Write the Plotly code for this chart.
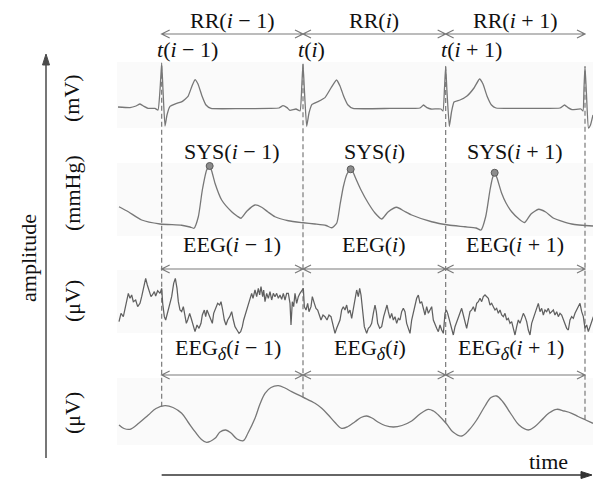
import numpy as np
import plotly.graph_objects as go

W, H = 593, 480

# ---------------------------------------------------------------- data
# R-peak times (ms)
beat_t = [268, 1116, 1972, 2808]

# ECG (mV)
ecg_t = [6, 78, 114, 138, 162, 186, 228, 246, 260, 268, 276, 288, 300, 318, 354, 390, 426, 450, 468,
         486, 510, 534, 564, 738, 918, 972, 996, 1020, 1038, 1074, 1098, 1109, 1116, 1125, 1138,
         1152, 1170, 1206, 1248, 1284, 1317, 1338, 1362, 1386, 1416, 1638, 1818, 1839, 1860, 1884,
         1944, 1956, 1965, 1972, 1980, 1994, 2007, 2022, 2058, 2100, 2142, 2175, 2196, 2220, 2247,
         2274, 2478, 2658, 2685, 2706, 2730, 2784, 2796, 2802, 2808, 2817, 2829, 2841, 2856]
ecg_mv = [0.025, 0.01, 0.05, 0.10, 0.04, -0.01, -0.01, -0.05, 0.575, 1.125, 0.45, -0.45, -0.175,
          0.04, 0.11, 0.16, 0.29, 0.55, 0.71, 0.60, 0.30, 0.075, -0.01, -0.015, -0.01, 0.0, 0.06,
          0.01, -0.06, -0.025, -0.075, 0.575, 1.10, 0.40, -0.46, -0.125, 0.09, 0.16, 0.26, 0.50,
          0.70, 0.55, 0.275, 0.075, -0.01, -0.01, 0.0, 0.075, 0.01, -0.025, -0.025, -0.075, 0.50,
          1.04, 0.40, -0.46, -0.10, 0.15, 0.20, 0.30, 0.50, 0.725, 0.60, 0.30, 0.075, 0.0, -0.01,
          0.0, 0.075, 0.01, -0.04, -0.025, -0.075, 0.50, 1.04, 0.325, -0.50, -0.425, -0.175]

# arterial blood pressure (mmHg)
abp_t = [12, 68, 148, 258, 388, 438, 462, 488, 512, 538, 556, 570, 588, 628, 688, 720, 744, 780,
         828, 868, 906, 948, 1028, 1118, 1188, 1254, 1288, 1318, 1338, 1358, 1380, 1402, 1416,
         1428, 1464, 1508, 1548, 1588, 1626, 1678, 1722, 1768, 1888, 1988, 2088, 2154, 2184, 2212,
         2238, 2253, 2266, 2280, 2308, 2334, 2368, 2412, 2446, 2484, 2530, 2572, 2620, 2728, 2856]
abp_mmhg = [94.6, 90.6, 84.0, 80.8, 79.8, 78.4, 77.4, 86.6, 108.0, 124.0, 127.2, 122.4, 113.4,
            100.0, 90.6, 87.2, 85.4, 91.2, 96.0, 94.2, 90.4, 86.6, 83.4, 81.8, 80.8, 79.6, 77.8,
            81.4, 96.0, 110.6, 120.8, 124.6, 122.4, 118.6, 108.0, 97.4, 89.6, 84.8, 90.4, 94.2,
            91.2, 88.0, 82.6, 80.0, 78.6, 77.6, 76.0, 86.6, 108.0, 117.6, 121.8, 117.6, 105.4,
            97.6, 90.6, 84.8, 82.0, 88.8, 92.6, 90.4, 85.4, 80.8, 79.2]

# raw EEG (uV)
eeg_t = [12, 24, 38, 52, 68, 78, 88, 98, 112, 124, 138, 148, 164, 172, 182, 192, 204, 212, 224,
         232, 244, 258, 268, 274, 284, 292, 304, 314, 328, 340, 350, 360, 368, 378, 388, 398, 408,
         416, 424, 436, 448, 460, 468, 480, 492, 504, 512, 524, 532, 540, 552, 560, 572, 580, 592,
         604, 616, 624, 634, 644, 654, 664, 676, 688, 698, 708, 720, 732, 742, 752, 760, 772, 784,
         796, 808, 816, 828, 838, 848, 856, 864, 874, 880, 888, 898, 908, 918, 928, 938, 948, 958,
         968, 978, 988, 998, 1008, 1018, 1028, 1038, 1044, 1052, 1060, 1068, 1078, 1088, 1098,
         1108, 1118, 1124, 1134, 1144, 1152, 1164, 1172, 1184, 1194, 1204, 1212, 1224, 1236, 1248,
         1260, 1272, 1284, 1298, 1308, 1318, 1328, 1338, 1348, 1358, 1368, 1378, 1388, 1398, 1408,
         1418, 1428, 1438, 1448,
         1456, 1464, 1472, 1484, 1498, 1508, 1518, 1528, 1538, 1548, 1556, 1564, 1576, 1588, 1600,
         1612, 1620, 1628, 1638, 1648, 1658, 1668, 1678, 1688, 1698, 1708, 1718, 1728, 1738, 1748,
         1758, 1768, 1778, 1788, 1798, 1808, 1818, 1828, 1838, 1848, 1858, 1868, 1878, 1888, 1898,
         1908, 1918, 1928, 1938, 1948, 1958, 1968, 1976, 1984, 1992, 2000, 2008, 2018, 2028, 2038,
         2048, 2058, 2068, 2078, 2088, 2098, 2108, 2118, 2128, 2138, 2148, 2158, 2168, 2178, 2188,
         2198, 2208, 2218, 2228, 2238, 2248, 2258, 2268, 2278, 2288, 2298, 2308, 2318, 2328, 2338,
         2348, 2358, 2368, 2378, 2388, 2398, 2408, 2418, 2428, 2438, 2448, 2458, 2468, 2478, 2488,
         2498, 2508, 2518, 2528, 2538, 2548, 2558, 2568, 2578, 2588, 2598, 2608, 2618, 2628, 2638,
         2648, 2658, 2668, 2678, 2688, 2698, 2708, 2718, 2728, 2738, 2748, 2758, 2768, 2778, 2788,
         2798, 2808, 2818, 2828, 2838, 2848, 2858]
eeg_uv = [-17.5, -5, -10, 7.5, 25, 17.5, 22.5, 12.5, 15, 5, 10, 20, 40, 47.5, 37.5, 30, 20, 22.5,
          27.5, 21, 29, 25, 32.5, 10, -10, -15, -2.5, 10, 20, 40, 47.5, 32.5, 12.5, 0, -2.5, 5,
          -10, -20, -15, -5, -15, -27.5, -32.5, -22.5, -27.5, -20, -7.5, 0, -10, 0, -7.5, -15,
          -20, -5, 2.5, 10, 7.5, 12.5, 0, -15, -22.5, -15, -10, -2.5, -15, -25, -30, -35, -32.5,
          -25, -15, -5, 5, 15, 25, 17.5, 30, 20, 32.5, 22.5, 35, 20, 30, 12.5, 25, 17.5, 27.5, 15,
          25, 20, 25, 17.5, 22.5, 16, 25, 15, 25, 25, 10, -22.5, 12.5, 5, 25, 10, 20, 25, 30,
          32.5, 5, 0, 10, -2.5, 5, 20, 10, 2.5, 0, -5, -15, -7.5, -10, -15, -7.5, -10, -25, -35,
          -27.5, -20, -15, 0, 5, 0, 7.5, -5, 0, -12.5, 2.5, 12.5, 30, 20,
          32.5, 22.5, 5, -25, -35, -27.5, -25, -20, -5, 7.5, -2.5, -20, -27.5, -25, -10, 2.5, 7.5,
          -2.5, -12.5, -5, -15, -10, -20, -12.5, -15, -2.5, 2.5, -2.5, -20, -27.5, -35, -15, -5,
          5, 17.5, 22.5, 10, 12.5, 0, -7.5, 5, -5, 0, 5, -15, -20, -27.5, -32.5, -22.5, -30, -35,
          -5, 0, -5, -12.5, -20, -27.5, -37.5, -25, -17.5, -10, -2.5, 2.5, -7.5, -20, -27.5, -15,
          -2.5, 0, 5, -2.5, 10, 12.5, 17.5, 12.5, 20, 22.5, 20, 17.5, 7.5, 10, 5, 0, 2.5, -5, 0,
          -7.5, -10, -5, -15, -12.5, -20, -17.5, -27.5, -37.5, -25, -15, -20, -12.5, -5, -10,
          -17.5, -30, -37.5, -20, -12.5, -5, 5, 10, -2.5, 2.5, -7.5, 0, -2.5, 2.5, -5, -2.5, 0,
          -7.5, -2.5, -10, -5, -7.5, -15, -20, -27.5, -30, -15, -10, -12.5, -5, 0, 5, 10, -2.5,
          -10, -27.5, -22.5, -32.5, -25, -15, -10]

# delta-band EEG (uV)
delta_t = [12, 42, 78, 132, 188, 234, 288, 336, 388, 426, 468, 504, 538, 588, 618, 652, 684, 720,
           758, 786, 828, 858, 888, 924, 968, 1008, 1048, 1118, 1188, 1230, 1268, 1308, 1348,
           1386, 1428, 1464, 1498, 1530, 1568, 1608, 1658, 1710, 1768, 1818, 1868, 1899, 1928,
           1978, 2016, 2068, 2112, 2158, 2208, 2244, 2278, 2316, 2368, 2412, 2468, 2508, 2548,
           2592, 2638, 2682, 2728, 2766, 2812, 2856]
delta_uv = [-10, -13.5, -14.3, -8, 0, 6.5, 9.3, 7.5, 1.7, -7, -16.7, -24, -27.3, -23.3, -17, -15,
            -18, -24, -25.7, -18, -3.3, 11, 21.7, 27.5, 29.3, 27, 23.3, 17.7, 11.7, 6.5, 0, -7.5,
            -13.3, -11.5, -6.7, -2.5, -1, -3, -7.3, -10.5, -12, -10.5, -6, 1, 5.7, 4, 0, -9, -17,
            -21, -15, -5, 9, 17.5, 19, 13, 0, -10, -15, -11.5, -5, 2, 5.7, 4, 1.7, -1.5, -5, -8.3]

DELTA = "<sub><span style='font-size:18px'><i>δ</i></span></sub>"
rr_labels = ["RR(<i>i</i> − 1)", "RR(<i>i</i>)", "RR(<i>i</i> + 1)"]
t_labels = ["<i>t</i>(<i>i</i> − 1)", "<i>t</i>(<i>i</i>)", "<i>t</i>(<i>i</i> + 1)"]
sys_labels = ["SYS(<i>i</i> − 1)", "SYS(<i>i</i>)", "SYS(<i>i</i> + 1)"]
eeg_labels = ["EEG(<i>i</i> − 1)", "EEG(<i>i</i>)", "EEG(<i>i</i> + 1)"]
delta_labels = [f"EEG{DELTA}(<i>i</i> − 1)", f"EEG{DELTA}(<i>i</i>)",
                f"EEG{DELTA}(<i>i</i> + 1)"]
unit_labels = ["(mV)", "(mmHg)", "(μV)", "(μV)"]

# ---------------------------------------------------------------- layout geometry
FONT = "Liberation Serif"
INK = "#111111"
TRACE = "#777777"
GUIDE = "#7a7a7a"

X_DOM = [117 / W, 1.0]
T_RANGE = [0, 2856]


def ypx(p):
    """paper y for a pixel row measured from the top"""
    return 1 - p / H


def band(top, bottom):
    return [ypx(bottom), ypx(top)]


panels = {
    "y":  dict(domain=band(55, 135), range=[-0.675, 1.325]),   # ECG
    "y2": dict(domain=band(145, 245), range=[64, 144]),         # ABP
    "y3": dict(domain=band(262, 340), range=[-45, 72]),         # EEG
    "y4": dict(domain=band(380, 450), range=[-35, 35]),         # EEG delta
}
backgrounds = [(62, 128), (163, 236), (270, 333), (378, 445)]
unit_rows = [98, 193, 301, 413]


def xpaper(t):
    return X_DOM[0] + (t - T_RANGE[0]) / (T_RANGE[1] - T_RANGE[0]) * (X_DOM[1] - X_DOM[0])


def ypaper(ax, v):
    d, r = panels[ax]["domain"], panels[ax]["range"]
    return d[0] + (v - r[0]) / (r[1] - r[0]) * (d[1] - d[0])


fig = go.Figure()

line_style = dict(color=TRACE, width=1.3)
fig.add_trace(go.Scatter(x=ecg_t, y=ecg_mv, yaxis="y", mode="lines",
                         line=dict(line_style, shape="spline", smoothing=0.4)))
fig.add_trace(go.Scatter(x=abp_t, y=abp_mmhg, yaxis="y2", mode="lines",
                         line=dict(line_style, shape="spline", smoothing=0.6)))
fig.add_trace(go.Scatter(x=eeg_t, y=eeg_uv, yaxis="y3", mode="lines",
                         line=dict(color="#606060", width=1.25)))
fig.add_trace(go.Scatter(x=delta_t, y=delta_uv, yaxis="y4", mode="lines",
                         line=dict(line_style, shape="spline", smoothing=1.0)))

# systolic peak of each beat-to-beat interval
abp_t_arr, abp_arr = np.array(abp_t), np.array(abp_mmhg)
sys_t, sys_v = [], []
for a, b in zip(beat_t[:-1], beat_t[1:]):
    m = (abp_t_arr > a) & (abp_t_arr <= b)
    k = np.argmax(abp_arr[m])
    sys_t.append(abp_t_arr[m][k])
    sys_v.append(abp_arr[m][k])
fig.add_trace(go.Scatter(x=sys_t, y=sys_v, yaxis="y2", mode="markers",
                         marker=dict(size=7, color="#8c8c8c", line=dict(color="#5a5a5a", width=1))))

shapes = []
for top, bottom in backgrounds:
    shapes.append(dict(type="rect", xref="paper", yref="paper", x0=X_DOM[0], x1=1,
                       y0=ypx(bottom), y1=ypx(top), fillcolor="#fafafa", line_width=0,
                       layer="below"))

# dashed beat markers from the R peak down to the delta trace
for b in beat_t:
    y_top = ypaper("y", float(np.interp(b, ecg_t, ecg_mv)))
    y_bot = ypaper("y4", float(np.interp(b, delta_t, delta_uv)))
    shapes.append(dict(type="line", xref="paper", yref="paper", x0=xpaper(b), x1=xpaper(b),
                       y0=y_bot, y1=y_top, line=dict(color=GUIDE, width=1.2, dash="5px,3px"),
                       layer="below"))

# double-headed interval arrows
HX, HY = 8 / W, 4 / H
for row in (34, 269, 375):
    yy = ypx(row)
    for a, b in zip(beat_t[:-1], beat_t[1:]):
        xa, xb = xpaper(a), xpaper(b)
        path = (f"M{xa + HX},{yy + HY} L{xa},{yy} L{xa + HX},{yy - HY} "
                f"M{xa},{yy} L{xb},{yy} "
                f"M{xb - HX},{yy + HY} L{xb},{yy} L{xb - HX},{yy - HY}")
        shapes.append(dict(type="path", xref="paper", yref="paper", path=path,
                           line=dict(color=GUIDE, width=1.2)))

# amplitude axis (upwards) and time axis (rightwards)
AX_X = 46 / W
shapes.append(dict(type="line", xref="paper", yref="paper", x0=AX_X, x1=AX_X,
                   y0=ypx(458), y1=ypx(62), line=dict(color="#4a4a4a", width=1.5)))
shapes.append(dict(type="path", xref="paper", yref="paper",
                   path=f"M{AX_X - 3.5 / W},{ypx(65)} L{AX_X},{ypx(54)} L{AX_X + 3.5 / W},{ypx(65)} Z",
                   fillcolor="#4a4a4a", line=dict(color="#4a4a4a", width=1)))
T_Y = ypx(475)
shapes.append(dict(type="line", xref="paper", yref="paper", x0=xpaper(beat_t[0]), x1=584 / W,
                   y0=T_Y, y1=T_Y, line=dict(color="#333333", width=1.5)))
shapes.append(dict(type="path", xref="paper", yref="paper",
                   path=f"M{581 / W},{T_Y + 3.5 / H} L{592 / W},{T_Y} L{581 / W},{T_Y - 3.5 / H} Z",
                   fillcolor="#333333", line=dict(color="#333333", width=1)))

ann = []
big = dict(family=FONT, size=22, color=INK)
for k, (a, b) in enumerate(zip(beat_t[:-1], beat_t[1:])):
    xm = xpaper((a + b) / 2)
    ann.append(dict(x=xm, y=ypx(21), text=rr_labels[k]))
    ann.append(dict(x=xm, y=ypx(151), text=sys_labels[k]))
    ann.append(dict(x=xm, y=ypx(244), text=eeg_labels[k]))
    ann.append(dict(x=xm - 4 / W, y=ypx(349), text=delta_labels[k]))
for k, b in enumerate(beat_t[:-1]):
    ann.append(dict(x=xpaper(b) - 7 / W, y=ypx(50), text=t_labels[k], xanchor="left"))
for txt, row in zip(unit_labels, unit_rows):
    ann.append(dict(x=72 / W, y=ypx(row), text=txt, textangle=-90))
ann.append(dict(x=28 / W, y=ypx(258), text="amplitude", textangle=-90))
ann.append(dict(x=548 / W, y=ypx(461), text="time"))
for a in ann:
    a.update(xref="paper", yref="paper", showarrow=False, font=big)
    a.setdefault("xanchor", "center")
    a.setdefault("yanchor", "middle")

layout = dict(
    width=W, height=H, margin=dict(l=0, r=0, t=0, b=0),
    paper_bgcolor="white", plot_bgcolor="rgba(0,0,0,0)", showlegend=False,
    xaxis=dict(domain=X_DOM, range=T_RANGE, visible=False, anchor="y"),
    shapes=shapes, annotations=ann,
)
for key, p in panels.items():
    name = "yaxis" if key == "y" else "yaxis" + key[1:]
    layout[name] = dict(domain=p["domain"], range=p["range"], visible=False, anchor="x")
fig.update_layout(**layout)

fig.write_html("out.html")
